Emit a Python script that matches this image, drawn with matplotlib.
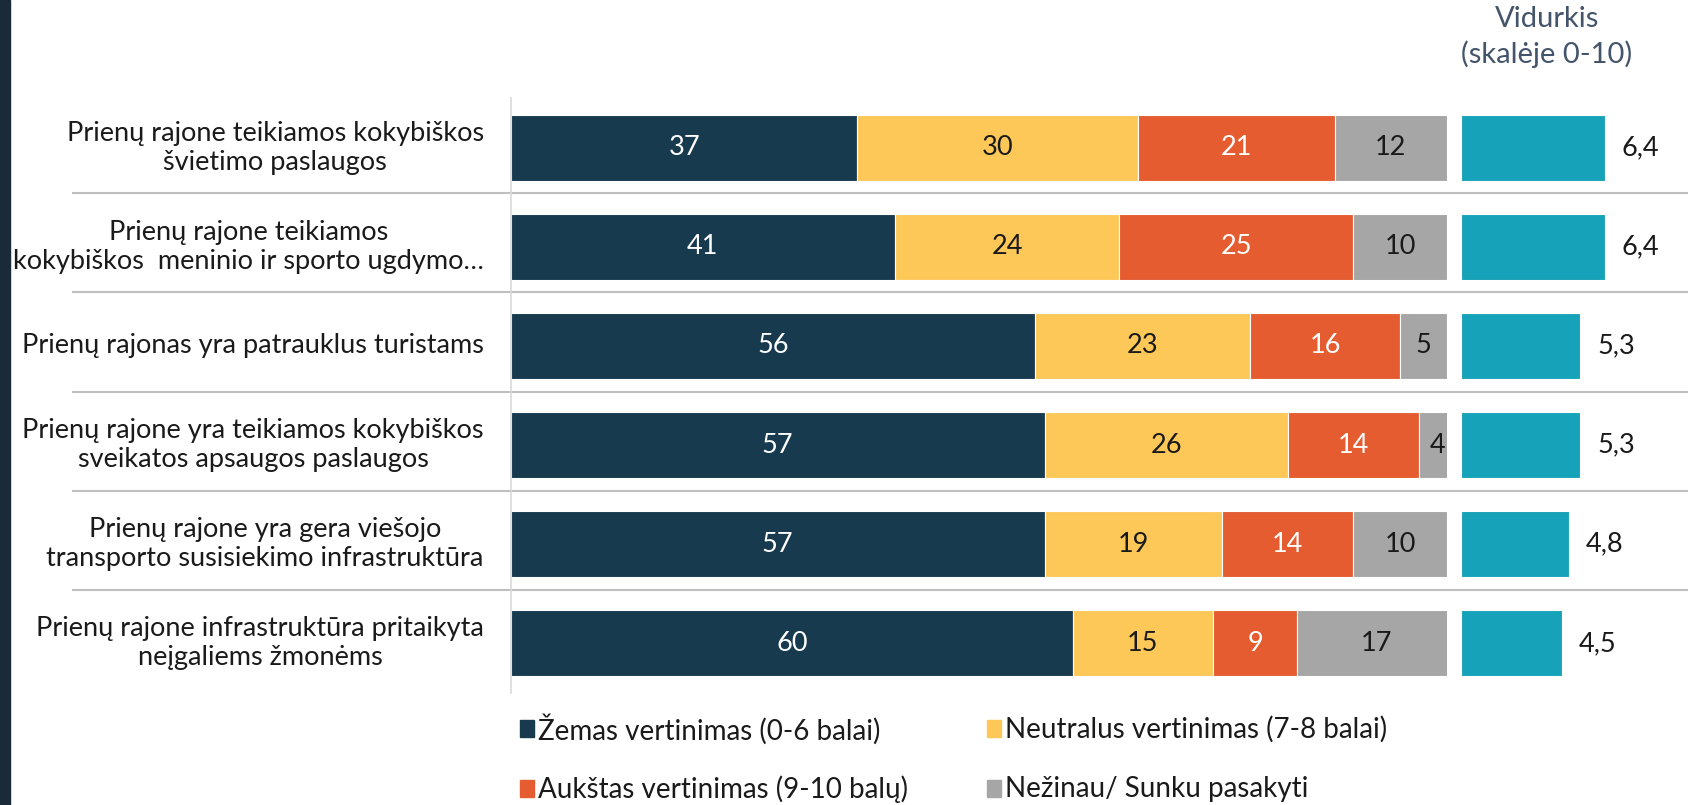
import matplotlib
matplotlib.use("Agg")
import matplotlib.pyplot as plt
from matplotlib.patches import Rectangle
import numpy as np

plt.rcParams['font.family'] = ['Lato', 'DejaVu Sans']

# data
categories = ["Prienų rajone teikiamos kokybiškos\nšvietimo paslaugos",
              "Prienų rajone teikiamos\nkokybiškos  meninio ir sporto ugdymo…",
              "Prienų rajonas yra patrauklus turistams",
              "Prienų rajone yra teikiamos kokybiškos\nsveikatos apsaugos paslaugos",
              "Prienų rajone yra gera viešojo\ntransporto susisiekimo infrastruktūra",
              "Prienų rajone infrastruktūra pritaikyta\nneįgaliems žmonėms"]
low = [37, 41, 56, 57, 57, 60]
neutral = [30, 24, 23, 26, 19, 15]
high = [21, 25, 16, 14, 14, 9]
unknown = [12, 10, 5, 4, 10, 17]
average = [6.4, 6.4, 5.3, 5.3, 4.8, 4.5]
avg_labels = ["6,4", "6,4", "5,3", "5,3", "4,8", "4,5"]
series_names = ["Žemas vertinimas (0-6 balai)", "Neutralus vertinimas (7-8 balai)",
                "Aukštas vertinimas (9-10 balų)", "Nežinau/ Sunku pasakyti"]
series_colors = ["#173a4f", "#fec858", "#e55c30", "#a6a6a6"]
text_colors = ["white", "#1a1a1a", "white", "#1a1a1a"]
avg_color = "#16a2b9"

W, H = 1688, 805
fig = plt.figure(figsize=(W/100, H/100), dpi=100)

def fx(px):
    return px / W

def fy(py):
    return 1 - py / H

# left dark strip
fig.patches.append(Rectangle((0, 0), fx(10), 1, transform=fig.transFigure, color="#1b2a38", zorder=0))

top, bot = 98, 693
ax = fig.add_axes([fx(511), fy(bot), fx(1447 - 511), (bot - top)/H])
ax2 = fig.add_axes([fx(1461), fy(bot), fx(225), (bot - top)/H])

y = np.arange(len(categories))
bh = 0.665
data = [low, neutral, high, unknown]
left = np.zeros(len(categories))
for vals, col, tc in zip(data, series_colors, text_colors):
    vals = np.array(vals)
    ax.barh(y, vals, left=left, height=bh, color=col, edgecolor="white", linewidth=0.8)
    for yi, l, v in zip(y, left, vals):
        ax.text(l + v/2, yi, str(v), ha="center", va="center", color=tc, fontsize=19.5)
    left = left + vals

ax.set_xlim(0, 100)
ax.set_ylim(len(categories) - 0.5, -0.5)
ax.set_xticks([])
ax.set_yticks([])
for s in ["top", "right", "bottom"]:
    ax.spines[s].set_visible(False)
ax.spines["left"].set_color("#d9d9d9")
ax.spines["left"].set_linewidth(1.2)

for yi, cat in zip(y, categories):
    ax.text(-2.9, yi, cat, ha="right", va="center", multialignment="center",
            fontsize=19.5, color="#1a1a1a")

# separators
for yi in y[:-1]:
    ax.axhline(yi + 0.46, xmin=-0.468, xmax=1.257, color="#bfbfbf", linewidth=1.5, clip_on=False)

# averages
ax2.barh(y, average, height=bh, color=avg_color, edgecolor="white", linewidth=0.8)
for yi, v, lab in zip(y, average, avg_labels):
    ax2.text(v + 0.75, yi, lab, ha="left", va="center", fontsize=19.5, color="#1a1a1a")
ax2.set_xlim(0, 10)
ax2.set_ylim(len(categories) - 0.5, -0.5)
ax2.axis("off")

fig.text(fx(1547), fy(37), "Vidurkis\n(skalėje 0-10)", ha="center", va="center",
         multialignment="center", fontsize=21, color="#44546a", linespacing=1.35)

# legend
leg_pos = [(520, 729), (987, 729), (520, 789), (987, 789)]
for (lx, ly), name, col in zip(leg_pos, series_names, series_colors):
    fig.patches.append(Rectangle((fx(lx), fy(ly + 8)), fx(14), 17/H, transform=fig.transFigure,
                                 color=col))
    fig.text(fx(lx + 18), fy(ly), name, ha="left", va="center", fontsize=20, color="#1a1a1a")

fig.savefig("out.png", dpi=100)
